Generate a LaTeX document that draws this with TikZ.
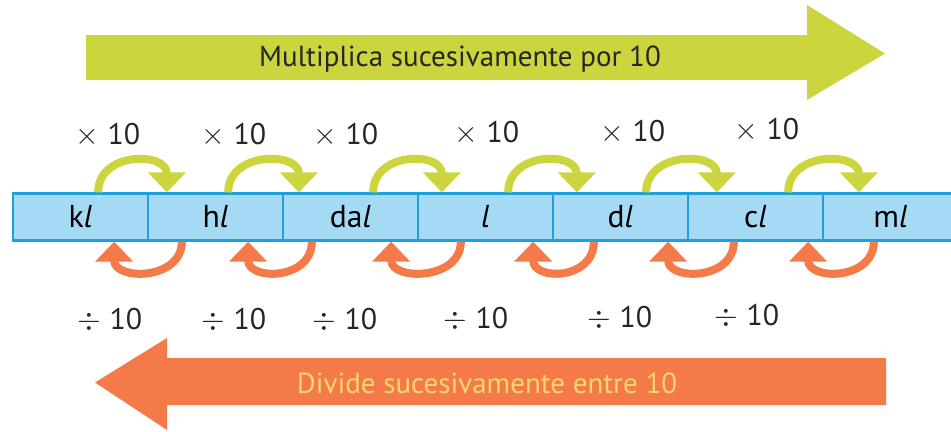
\documentclass[tikz,border=0pt]{standalone}
\usepackage{fontspec}
\setmainfont{PT Sans}
\usetikzlibrary{arrows.meta}
\definecolor{barfill}{RGB}{164,218,244}
\definecolor{barline}{RGB}{30,160,222}
\definecolor{mulgreen}{RGB}{204,213,62}
\definecolor{dvdorange}{RGB}{244,122,74}
\definecolor{dvdtext}{RGB}{248,214,110}

\begin{document}
\begin{tikzpicture}[
      cell/.style={draw=barline, line width=1.3pt, fill=barfill, minimum width=2.7cm,
                   minimum height=0.94cm, inner sep=0pt, font=\fontsize{18}{21}\selectfont},
      op/.style={font=\fontsize{17}{20}\selectfont, text=black!85},
      mul/.style={draw=mulgreen, line width=0.16cm, -{Triangle[width=0.74cm, length=0.40cm]}},
      dvd/.style={draw=dvdorange, line width=0.16cm, -{Triangle[width=0.74cm, length=0.40cm]}}]

    \useasboundingbox (0,0) rectangle (19.02,8.62);

    % big arrows
    \fill[mulgreen] (1.72,7.02) -- (16.14,7.02) -- (16.14,6.62) -- (17.70,7.55)
                    -- (16.14,8.52) -- (16.14,7.92) -- (1.72,7.92) -- cycle;
    \node[font=\fontsize{16.5}{19}\selectfont, text=black!85] (multxt) at (9.20,7.44)
      {Multiplica sucesivamente por 10};

    \fill[dvdorange] (17.72,0.52) -- (3.34,0.52) -- (3.34,0.02) -- (1.90,0.97)
                     -- (3.34,1.86) -- (3.34,1.46) -- (17.72,1.46) -- cycle;
    \node[font=\fontsize{16.5}{19}\selectfont, text=dvdtext] (dvdtxt) at (9.74,0.96)
      {Divide sucesivamente entre 10};

    % units
    \node[cell] (kl)  at (1.61, 4.28)  {k\textit{l}};
    \node[cell] (hl)  at (4.31, 4.28)  {h\textit{l}};
    \node[cell] (dal) at (7.01, 4.28)  {da\textit{l}};
    \node[cell] (l)   at (9.71, 4.28)  {\textit{l}};
    \node[cell] (dl)  at (12.41, 4.28) {d\textit{l}};
    \node[cell] (cl)  at (15.11, 4.28) {c\textit{l}};
    \node[cell] (ml)  at (17.81, 4.28) {m\textit{l}};

    % x 10
    \node[op] (m1) at (2.16, 5.92)  {$\times$ 10};
    \node[op] (m2) at (4.68, 5.92)  {$\times$ 10};
    \node[op] (m3) at (6.92, 5.92)  {$\times$ 10};
    \node[op] (m4) at (9.74, 5.96)  {$\times$ 10};
    \node[op] (m5) at (12.66, 5.98) {$\times$ 10};
    \node[op] (m6) at (15.34, 6.02) {$\times$ 10};

    \draw[mul] ([xshift=-1.02cm]kl.north east) .. controls +(0,0.82) and +(0,0.82) .. ([xshift=0.40cm]hl.north west);
    \draw[mul] ([xshift=-1.12cm]hl.north east) .. controls +(0,0.82) and +(0,0.82) .. ([xshift=0.34cm]dal.north west);
    \draw[mul] ([xshift=-0.92cm]dal.north east) .. controls +(0,0.82) and +(0,0.82) .. ([xshift=0.50cm]l.north west);
    \draw[mul] ([xshift=-0.92cm]l.north east) .. controls +(0,0.82) and +(0,0.82) .. ([xshift=0.50cm]dl.north west);
    \draw[mul] ([xshift=-0.86cm]dl.north east) .. controls +(0,0.82) and +(0,0.82) .. ([xshift=0.60cm]cl.north west);
    \draw[mul] ([xshift=-0.72cm]cl.north east) .. controls +(0,0.82) and +(0,0.82) .. ([xshift=0.74cm]ml.north west);

    % : 10
    \node[op] (d1) at (2.20, 2.22)  {$\div$ 10};
    \node[op] (d2) at (4.68, 2.22)  {$\div$ 10};
    \node[op] (d3) at (6.90, 2.22)  {$\div$ 10};
    \node[op] (d4) at (9.52, 2.24)  {$\div$ 10};
    \node[op] (d5) at (12.40, 2.26) {$\div$ 10};
    \node[op] (d6) at (14.94, 2.30) {$\div$ 10};

    \draw[dvd] ([xshift=0.70cm]hl.south west) .. controls +(0,-0.78) and +(0,-0.78) .. ([xshift=-0.70cm]kl.south east);
    \draw[dvd] ([xshift=0.60cm]dal.south west) .. controls +(0,-0.78) and +(0,-0.78) .. ([xshift=-0.72cm]hl.south east);
    \draw[dvd] ([xshift=0.88cm]l.south west) .. controls +(0,-0.78) and +(0,-0.78) .. ([xshift=-0.56cm]dal.south east);
    \draw[dvd] ([xshift=0.84cm]dl.south west) .. controls +(0,-0.78) and +(0,-0.78) .. ([xshift=-0.42cm]l.south east);
    \draw[dvd] ([xshift=0.94cm]cl.south west) .. controls +(0,-0.78) and +(0,-0.78) .. ([xshift=-0.42cm]dl.south east);
    \draw[dvd] ([xshift=1.04cm]ml.south west) .. controls +(0,-0.78) and +(0,-0.78) .. ([xshift=-0.32cm]cl.south east);
  \end{tikzpicture}
\end{document}
